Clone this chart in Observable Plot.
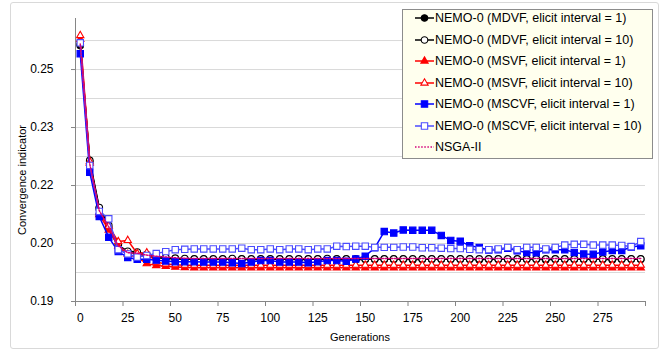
<!DOCTYPE html>
<html><head><meta charset="utf-8">
<script src="https://cdn.jsdelivr.net/npm/d3@7"></script>
<script src="https://cdn.jsdelivr.net/npm/@observablehq/plot@0.6"></script>
<style>
body{margin:0;background:#fff;font-family:"Liberation Sans",Arial,sans-serif;}
#wrap{position:relative;width:670px;height:352px;overflow:hidden}
#frame{position:absolute;left:10px;top:2px;width:649px;height:347px;border:1px solid #d9d9d9;border-radius:3px;box-sizing:border-box;pointer-events:none}
#legend{position:absolute;left:402px;top:9px;width:251px;height:150px;box-sizing:border-box;border:1px solid #8c8c8c;background:#ffffee;}
.item{position:absolute;left:12px;height:16px;display:flex;align-items:center;font-size:12.5px;color:#000;white-space:nowrap}
.item svg{margin-right:1px}
.ytitle{position:absolute;left:22px;top:180px;transform:translate(-50%,-50%) rotate(-90deg);font-size:11px;white-space:nowrap}
.xtitle{position:absolute;left:360px;top:337px;transform:translate(-50%,-50%);font-size:11px;white-space:nowrap}
#chart{position:absolute;left:0;top:0}
</style></head>
<body>
<div id="wrap">
  <div id="frame"></div>
  <div id="chart"></div>
  <div class="ytitle">Convergence indicator</div>
  <div class="xtitle">Generations</div>
  <div id="legend"></div>
</div>
<script>
// Categories (generations)
const gens = [0,5,10,15,20,25,30,35,40,45,50,55,60,65,70,75,80,85,90,95,100,105,110,115,120,125,130,135,140,145,150,155,160,165,170,175,180,185,190,195,200,205,210,215,220,225,230,235,240,245,250,255,260,265,270,275,280,285,290,295];

// Series values
const mdvf1 = [0.2562,0.2262,0.2140,0.2090,0.2040,0.2027,0.2024,0.2017,0.2013,0.2011,0.2010,0.2009,0.2009,0.2009,0.2008,0.2009,0.2009,0.2009,0.2008,0.2009,0.2009,0.2009,0.2009,0.2008,0.2009,0.2009,0.2009,0.2009,0.2009,0.2008,0.2009,0.2009,0.2009,0.2009,0.2009,0.2008,0.2009,0.2009,0.2009,0.2009,0.2009,0.2009,0.2008,0.2009,0.2009,0.2009,0.2009,0.2009,0.2009,0.2008,0.2009,0.2009,0.2009,0.2009,0.2009,0.2009,0.2008,0.2009,0.2009,0.2009];
const mdvf10 = [0.2566,0.2265,0.2143,0.2097,0.2045,0.2030,0.2028,0.2021,0.2017,0.2014,0.2012,0.2011,0.2010,0.2010,0.2010,0.2010,0.2011,0.2010,0.2010,0.2010,0.2010,0.2010,0.2010,0.2010,0.2010,0.2010,0.2011,0.2010,0.2010,0.2010,0.2010,0.2010,0.2010,0.2010,0.2010,0.2010,0.2010,0.2010,0.2010,0.2010,0.2010,0.2010,0.2010,0.2010,0.2010,0.2010,0.2010,0.2010,0.2010,0.2010,0.2010,0.2010,0.2010,0.2010,0.2010,0.2010,0.2010,0.2010,0.2010,0.2010];
const msvf1 = [0.2578,0.2258,0.2125,0.2085,0.2043,0.2022,0.2014,0.1998,0.1993,0.1991,0.1989,0.1988,0.1987,0.1987,0.1987,0.1987,0.1987,0.1987,0.1987,0.1987,0.1987,0.1987,0.1987,0.1987,0.1987,0.1987,0.1987,0.1987,0.1987,0.1987,0.1987,0.1987,0.1987,0.1987,0.1987,0.1987,0.1987,0.1987,0.1987,0.1987,0.1987,0.1987,0.1987,0.1987,0.1987,0.1987,0.1987,0.1987,0.1987,0.1987,0.1987,0.1987,0.1987,0.1987,0.1987,0.1987,0.1987,0.1987,0.1987,0.1987];
const msvf10 = [0.2588,0.2262,0.2130,0.2095,0.2055,0.2058,0.2024,0.2026,0.2002,0.1997,0.1995,0.1994,0.1994,0.1994,0.1994,0.1994,0.1994,0.1994,0.1994,0.1994,0.1994,0.1994,0.1994,0.1994,0.1994,0.1994,0.1994,0.1994,0.1994,0.1994,0.1994,0.1994,0.1994,0.1994,0.1994,0.1994,0.1994,0.1994,0.1994,0.1994,0.1994,0.1994,0.1994,0.1994,0.1994,0.1994,0.1994,0.1994,0.1994,0.1994,0.1994,0.1994,0.1994,0.1994,0.1994,0.1994,0.1994,0.1994,0.1994,0.1994];
const mscvf1 = [0.2541,0.2234,0.2120,0.2066,0.2029,0.2014,0.2009,0.2009,0.2007,0.2005,0.2003,0.2003,0.2003,0.2002,0.2002,0.2002,0.2000,0.1998,0.2002,0.2006,0.2006,0.2002,0.2002,0.2002,0.2000,0.2003,0.2006,0.2006,0.2004,0.2010,0.2017,0.2039,0.2081,0.2077,0.2085,0.2084,0.2084,0.2084,0.2071,0.2058,0.2056,0.2044,0.2040,0.2033,0.2034,0.2038,0.2031,0.2027,0.2026,0.2034,0.2034,0.2034,0.2027,0.2023,0.2022,0.2028,0.2032,0.2032,0.2041,0.2044];
const mscvf10 = [0.2569,0.2252,0.2133,0.2114,0.2034,0.2023,0.2015,0.2019,0.2024,0.2029,0.2034,0.2035,0.2036,0.2036,0.2036,0.2036,0.2036,0.2038,0.2034,0.2034,0.2036,0.2034,0.2036,0.2036,0.2034,0.2036,0.2036,0.2043,0.2042,0.2043,0.2043,0.2040,0.2040,0.2040,0.2041,0.2041,0.2039,0.2039,0.2038,0.2037,0.2037,0.2035,0.2034,0.2034,0.2036,0.2040,0.2034,0.2040,0.2040,0.2036,0.2040,0.2046,0.2048,0.2048,0.2046,0.2046,0.2046,0.2045,0.2042,0.2055];
const nsga2 = [0.2566,0.2256,0.2135,0.2093,0.2044,0.2026,0.2025,0.2020,0.2017,0.2015,0.2013,0.2012,0.2011,0.2011,0.2011,0.2011,0.2011,0.2011,0.2011,0.2011,0.2011,0.2011,0.2011,0.2011,0.2011,0.2011,0.2011,0.2011,0.2011,0.2011,0.2011,0.2011,0.2011,0.2011,0.2011,0.2011,0.2011,0.2011,0.2011,0.2011,0.2011,0.2011,0.2011,0.2011,0.2011,0.2011,0.2011,0.2011,0.2011,0.2011,0.2011,0.2011,0.2011,0.2011,0.2011,0.2011,0.2011,0.2011,0.2011,0.2011];

const seriesNames = ["NEMO-0 (MDVF, elicit interval = 1)","NEMO-0 (MDVF, elicit interval = 10)","NEMO-0 (MSVF, elicit interval = 1)","NEMO-0 (MSVF, elicit interval = 10)","NEMO-0 (MSCVF, elicit interval = 1)","NEMO-0 (MSCVF, elicit interval = 10)","NSGA-II"];

// Tick labels
const xTickValues = [0,25,50,75,100,125,150,175,200,225,250,275];
const yTicks = [0.19,0.205,0.22,0.235,0.25];
const yTickLabels = ["0.19","0.20","0.22","0.23","0.25"];
const yGrid = [0.1975,0.205,0.2125,0.22,0.2275,0.235,0.2425,0.25,0.2575];

// Styles (kept separate from data)
const styles = [
  {stroke:"#000000", symbol:"circle", r:3.3, fill:"#000000"},
  {stroke:"#000000", symbol:"circle", r:3.3, fill:"#ffffff"},
  {stroke:"#ff0000", symbol:"triangle", r:2.7, fill:"#ff0000"},
  {stroke:"#ff0000", symbol:"triangle", r:2.7, fill:"#ffffff"},
  {stroke:"#0000ff", symbol:"square", r:3.6, fill:"#0000ff"},
  {stroke:"#4b4bff", symbol:"square", r:3.6, fill:"#ffffff"},
  {stroke:"#d4007a", symbol:null, dash:"1.5,1.6"}
];
const allValues = [mdvf1, mdvf10, msvf1, msvf10, mscvf1, mscvf10, nsga2];

const series = allValues.map((vals, k) => ({
  name: seriesNames[k],
  style: styles[k],
  rows: gens.map((g, i) => ({gen: g, v: vals[i]}))
}));

const step = gens[1] - gens[0];
const xDomain = [gens[0] - step / 2, gens[gens.length - 1] + step / 2];
const xBounds = xTickValues.map(t => t - step / 2).concat([xDomain[1]]);

const marks = [
  Plot.gridY(yGrid, {stroke: "#d9d9d9", strokeOpacity: 1, strokeWidth: 1}),
  Plot.ruleY([yTicks[0]], {stroke: "#868686"}),
  Plot.ruleX([xDomain[0]], {stroke: "#868686"}),
  Plot.axisY(yTicks, {tickSize: 4, tickPadding: 18, stroke: "#868686", tickFormat: d => yTickLabels[yTicks.indexOf(d)], label: null, fontSize: 12, fill: "#000"}),
  Plot.axisX(xTickValues, {tickSize: 0, tickPadding: 12, label: null, fontSize: 12, fill: "#000"}),
  Plot.axisX(xBounds, {tickSize: 5, tickFormat: () => "", stroke: "#868686", label: null})
];

for (const s of series) {
  const st = s.style;
  marks.push(Plot.line(s.rows, {x: "gen", y: "v", stroke: st.stroke, strokeWidth: 1.5, strokeDasharray: st.dash || null}));
  if (st.symbol) {
    marks.push(Plot.dot(s.rows, {x: "gen", y: "v", symbol: st.symbol, r: st.r, fill: st.fill, stroke: st.stroke, strokeWidth: 1.1}));
  }
}

const chart = Plot.plot({
  width: 670, height: 352,
  marginLeft: 75, marginRight: 25, marginTop: 18, marginBottom: 51,
  style: {fontFamily: "Liberation Sans, Arial, sans-serif", fontSize: "12px", color: "#000", background: "transparent"},
  x: {domain: xDomain},
  y: {domain: [0.19, 0.2632]},
  marks
});
document.getElementById("chart").appendChild(chart);

// Legend
const legend = document.getElementById("legend");
const symMap = {circle: d3.symbolCircle, triangle: d3.symbolTriangle, square: d3.symbolSquare};
series.forEach((s, i) => {
  const st = s.style;
  const item = document.createElement("div");
  item.className = "item";
  item.style.top = (21.5 * i) + "px";
  let svg = `<svg width="19" height="14" viewBox="0 0 19 14"><line x1="0" x2="19" y1="7" y2="7" stroke="${st.stroke}" stroke-width="1.5"${st.dash ? ` stroke-dasharray="${st.dash}"` : ""}/>`;
  if (st.symbol) {
    const p = d3.symbol(symMap[st.symbol], Math.PI * st.r * st.r)();
    svg += `<path transform="translate(9.5,7)" d="${p}" fill="${st.fill}" stroke="${st.stroke}" stroke-width="1.1"/>`;
  }
  svg += `</svg>`;
  item.innerHTML = svg + `<span>${s.name}</span>`;
  legend.appendChild(item);
});
</script>
</body></html>
